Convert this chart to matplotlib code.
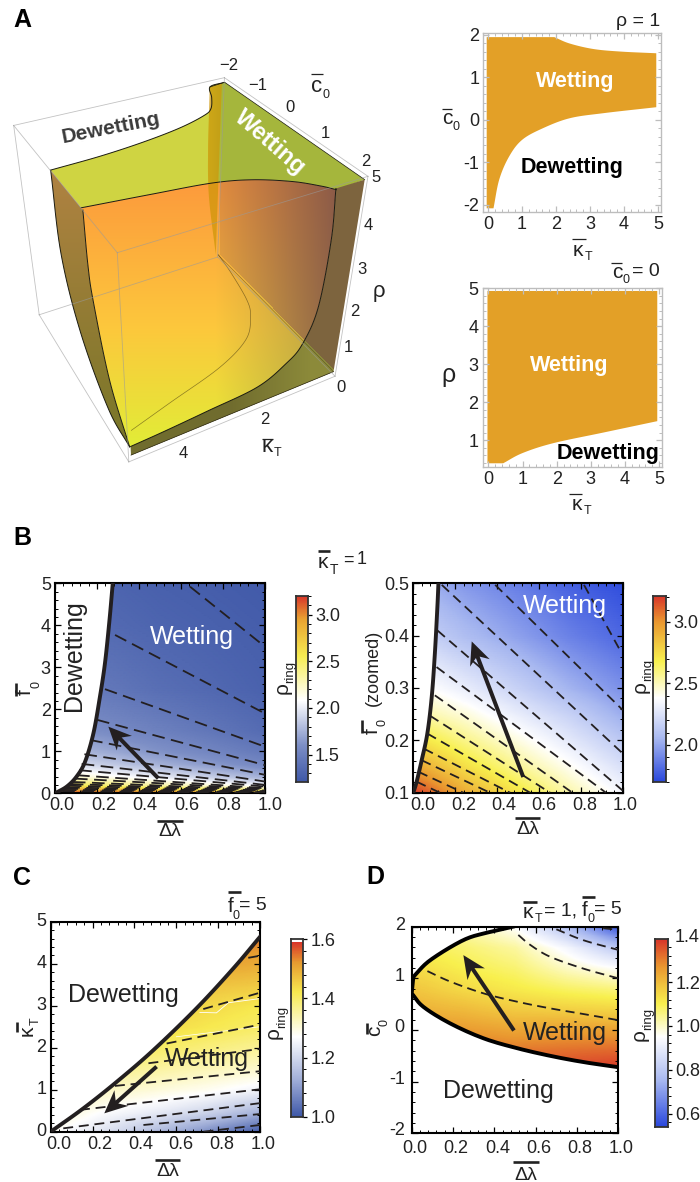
import numpy as np
import matplotlib
matplotlib.use("Agg")
import matplotlib.pyplot as plt
from matplotlib.colors import LinearSegmentedColormap, Normalize
from matplotlib.patches import Polygon
from matplotlib.ticker import AutoMinorLocator
from matplotlib.transforms import ScaledTranslation, IdentityTransform

plt.rcParams['font.family'] = ['Liberation Sans', 'DejaVu Sans']
W, H = 700, 1182
INK = '#231F20'
AMBER = '#E3A027'

# ---------------- DATA ----------------
# Panel A, wetting region read in (kappa_T, c0, rho)
top_low_k = [0.05, 0.45, 0.7, 1.0, 1.3, 2.0, 2.9, 3.9, 4.95]
top_low_c = [-1.95, -1.9, -1.5, -1.12, -0.95, -0.75, -0.6, -0.5, -0.46]
top_up_k = [4.95, 3.7, 2.55, 1.83, 1.22, 0.86, 0.7]
top_up_c = [0.72, 0.86, 1.0, 1.2, 1.52, 1.82, 2.0]
wall_k = [0.68, 0.62, 0.71, 1.0, 1.37, 2.04, 3.2, 4.2, 4.93]
wall_r = [4.92, 3.8, 2.2, 1.33, 0.95, 0.6, 0.49, 0.41, 0.37]
left_out_c = [-0.45, -0.38, 0.2, 1.19, 1.97]
left_out_r = [4.92, 3.05, 1.55, 0.5, 0.37]
left_in_c = [0.78, 0.8, 0.9, 1.33, 1.97]
left_in_r = [4.92, 3.75, 3.0, 1.45, 0.37]
floor_k = [0.02, 0.14, 0.37, 0.62, 1.15, 2.15, 3.6, 4.65]
floor_c = [-1.95, -1.28, -0.4, 0.04, 0.55, 0.95, 1.28, 1.52]
strip_k = [0.42, 0.42, 0.42, 0.36, 0.1]
strip_r = [4.9, 4.4, 3.3, 2.0, 0.15]

# Panel A slices
s1_low_k = [0.16, 0.33, 0.62, 1.0, 1.6, 2.4, 3.4, 4.95]
s1_low_c = [-2.08, -1.4, -0.86, -0.47, -0.2, 0.04, 0.16, 0.3]
s1_up_k = [1.95, 2.4, 3.1, 3.9, 4.95]
s1_up_c = [1.95, 1.8, 1.67, 1.61, 1.57]
s2_k = [-0.03, 0.43, 1.0, 1.9, 3.37, 4.95]
s2_r = [0.39, 0.39, 0.66, 0.92, 1.2, 1.5]

# Panel B left
b1_bound_x = [0, 0.056, 0.103, 0.143, 0.183, 0.214, 0.238, 0.259, 0.275]
b1_bound_y = [0, 0.16, 0.4, 0.75, 1.43, 2.3, 3.1, 4.1, 5]
b1_x = [0, 0.5, 1]
b1_y = [0, 0.02, 0.05, 0.1, 0.2, 0.4, 0.7, 1.0, 1.5, 2.5, 4, 5]
b1_z = [[3.2, 3.15, 3.05], [3.2, 3.15, 3.05], [3.1, 3.0, 2.75], [2.95, 2.7, 2.4],
        [2.6, 2.32, 2.05], [2.25, 2.0, 1.75], [1.98, 1.75, 1.55], [1.82, 1.62, 1.45],
        [1.65, 1.5, 1.35], [1.5, 1.37, 1.28], [1.38, 1.3, 1.25], [1.33, 1.27, 1.23]]
b1_start_x = [0.643, 0.286, 0.238, 0.2, 0.167, 0.14, 0.127, 0.115, 0.105, 0.095, 0.085, 0.075, 0.066, 0.058, 0.05, 0.042, 0.034]
b1_start_y = [4.92, 3.77, 2.48, 1.75, 1.27, 0.93, 0.7, 0.55, 0.43, 0.35, 0.27, 0.22, 0.18, 0.14, 0.11, 0.08, 0.05]
b1_end_y = [3.49, 1.9, 1.11, 0.67, 0.44, 0.28, 0.2, 0.16, 0.12, 0.1, 0.08, 0.065, 0.05, 0.04, 0.03, 0.025, 0.015]
b1_arrow = [0.492, 0.357, 0.254, 1.587]

# Panel B right
b2_bound_x = [0, 0.016, 0.04, 0.067, 0.088, 0.103, 0.115, 0.12]
b2_bound_y = [0.1, 0.121, 0.162, 0.213, 0.283, 0.366, 0.455, 0.5]
b2_x = [0, 0.25, 0.5, 0.75, 1]
b2_y = [0.1, 0.15, 0.2, 0.25, 0.3, 0.4, 0.5]
b2_z = [[3.2, 2.92, 2.72, 2.52, 2.35], [2.95, 2.74, 2.56, 2.4, 2.24], [2.75, 2.58, 2.43, 2.28, 2.13],
        [2.55, 2.44, 2.3, 2.17, 2.02], [2.42, 2.3, 2.17, 2.04, 1.93], [2.2, 2.08, 1.98, 1.88, 1.8],
        [2.05, 1.95, 1.87, 1.78, 1.72]]
b2_start_x = [0.815, 0.391, 0.136, 0.115, 0.111, 0.103, 0.08, 0.067, 0.051, 0.04, 0.024, 0.016]
b2_start_y = [0.497, 0.497, 0.497, 0.41, 0.34, 0.286, 0.247, 0.213, 0.184, 0.162, 0.14, 0.121]
b2_end_x = [0.982, 1, 1, 1, 0.92, 0.76, 0.653, 0.558, 0.462, 0.366, 0.239, 0.127]
b2_end_y = [0.376, 0.258, 0.175, 0.104, 0.1, 0.1, 0.1, 0.1, 0.1, 0.1, 0.1, 0.1]
b2_arrow = [0.525, 0.13, 0.279, 0.389]

# Panel C
c_bound_x = [0, 0.156, 0.316, 0.49, 0.697, 0.873, 1]
c_bound_y = [0, 0.556, 1.19, 1.94, 2.94, 3.89, 4.64]
c_x = [0, 0.25, 0.5, 0.75, 1]
c_y = [0, 0.5, 1, 1.5, 2, 2.5, 3, 3.5, 4, 4.6, 5]
c_z = [[1.28, 1.22, 1.15, 1.08, 1.01], [1.32, 1.27, 1.24, 1.2, 1.14], [1.36, 1.32, 1.3, 1.28, 1.25],
       [1.4, 1.37, 1.35, 1.33, 1.31], [1.44, 1.42, 1.4, 1.38, 1.36], [1.48, 1.46, 1.44, 1.42, 1.4],
       [1.5, 1.48, 1.46, 1.44, 1.42], [1.53, 1.51, 1.49, 1.47, 1.46], [1.55, 1.53, 1.52, 1.51, 1.5],
       [1.57, 1.56, 1.55, 1.54, 1.54], [1.58, 1.57, 1.56, 1.55, 1.55]]
c_start_x = [0.944, 0.729, 0.554, 0.467, 0.307, 0.14, 0.06, 0.443, 0.73]
c_start_y = [4.14, 2.92, 2.1, 1.63, 1.09, 0.52, 0.08, 0.16, 0.0]
c_end_y = [4.19, 3.31, 2.55, 1.97, 1.44, 1.01, 0.68, 0.42, 0.16]
c_white_x = [0.713, 0.792, 0.849, 1]
c_white_y = [2.84, 2.83, 3.07, 3.17]
c_white2_x = [0.6, 1]
c_white2_y = [2.26, 2.5]
c_arrow = [0.506, 1.55, 0.256, 0.437]

# Panel D
d_up_x = [0.008, 0.089, 0.25, 0.37, 0.49]
d_up_y = [1.03, 1.35, 1.74, 1.89, 2]
d_low_x = [0, 0.056, 0.185, 0.347, 0.508, 0.67, 0.83, 1]
d_low_y = [0.71, 0.45, 0.13, -0.16, -0.35, -0.5, -0.62, -0.72]
d_x = [0, 0.25, 0.5, 0.75, 1]
d_y = [-0.8, -0.4, 0, 0.4, 0.8, 1.2, 1.6, 2]
d_z = [[1.35, 1.35, 1.35, 1.38, 1.4], [1.33, 1.33, 1.31, 1.32, 1.33], [1.27, 1.26, 1.24, 1.25, 1.25],
       [1.22, 1.2, 1.17, 1.16, 1.15], [1.18, 1.14, 1.11, 1.08, 1.06], [1.14, 1.1, 1.07, 1.0, 0.95],
       [1.1, 1.07, 1.03, 0.93, 0.8], [1.08, 1.02, 0.95, 0.78, 0.57]]
d_c1_x = [0.076, 0.185, 0.347, 0.508, 0.669, 0.83, 1]
d_c1_y = [1.14, 0.94, 0.71, 0.55, 0.42, 0.31, 0.19]
d_c2_x = [0.516, 0.573, 0.669, 0.83, 1]
d_c2_y = [1.84, 1.65, 1.42, 1.19, 1.0]
d_c3_x = [0.7, 0.83, 1]
d_c3_y = [1.95, 1.74, 1.55]
d_c4_x = [0.927, 1]
d_c4_y = [1.97, 1.94]
d_arrow = [0.495, -0.01, 0.25, 1.45]

# ---------------- HELPERS ----------------
fig = plt.figure(figsize=(W / 100, H / 100), dpi=100)


def box(x0, y0, x1, y1, **kw):
    return fig.add_axes([x0 / W, 1 - y1 / H, (x1 - x0) / W, (y1 - y0) / H], **kw)


def smooth(x, y, n=12):
    p = np.column_stack([x, y]).astype(float)
    q = np.vstack([2 * p[0] - p[1], p, 2 * p[-1] - p[-2]])
    out = []
    for i in range(1, len(q) - 2):
        t = np.linspace(0, 1, n, endpoint=False)[:, None]
        a, b, c, d = q[i - 1], q[i], q[i + 1], q[i + 2]
        out.append(0.5 * (2 * b + (c - a) * t + (2 * a - 5 * b + 4 * c - d) * t ** 2 + (3 * b - a - 3 * c + d) * t ** 3))
    out.append(p[-1:])
    o = np.vstack(out)
    return o[:, 0], o[:, 1]


def style(ax, xt, xl, yt, yl, dx=(0, 0), dy=(0, 0), color='black', lw=1.5, pad=3, size=13):
    ax.set_xticks(xt, xl)
    ax.set_yticks(yt, yl)
    ax.xaxis.set_minor_locator(AutoMinorLocator(5))
    ax.yaxis.set_minor_locator(AutoMinorLocator(5))
    ax.tick_params(which='major', direction='in', length=4, width=0.9, top=True, right=True,
                   labelsize=size, labelcolor='#222222', color=color, pad=pad)
    ax.tick_params(which='minor', direction='in', length=2, width=0.7, top=True, right=True, color=color)
    for s in ax.spines.values():
        s.set_linewidth(lw)
        s.set_color(color)
    n = len(xl)
    for i, lab in enumerate(ax.get_xticklabels()):
        d = dx[0] + (dx[1] - dx[0]) * i / max(n - 1, 1)
        lab.set_transform(lab.get_transform() + ScaledTranslation(d / 100, 0, fig.dpi_scale_trans))
    n = len(yl)
    for i, lab in enumerate(ax.get_yticklabels()):
        d = dy[0] + (dy[1] - dy[0]) * i / max(n - 1, 1)
        lab.set_transform(lab.get_transform() + ScaledTranslation(0, d / 100, fig.dpi_scale_trans))


def make_cmap(stops, vmin, vmax):
    return LinearSegmentedColormap.from_list('c', [((v - vmin) / (vmax - vmin), c) for v, c in stops], N=512), Normalize(vmin, vmax)


def field(ax, xs, ys, zs, cmap, norm, clip_xy):
    xf = np.linspace(min(xs), max(xs), 201)
    yf = np.unique(np.concatenate([np.linspace(ys[i], ys[i + 1], 25) for i in range(len(ys) - 1)]))
    zs = np.asarray(zs, float)
    a = np.array([np.interp(xf, xs, row) for row in zs])
    f = np.array([np.interp(yf, ys, col) for col in a.T]).T
    m = ax.pcolormesh(xf, yf, f, shading='gouraud', cmap=cmap, norm=norm, zorder=1)
    m.set_clip_path(Polygon(clip_xy, closed=True, transform=ax.transData))


def cbar(b, vmin, vmax, cmap, norm, ticks, labels):
    ax = box(*b)
    v = np.linspace(vmin, vmax, 400)
    ax.pcolormesh([0, 1], v, v[:-1, None], cmap=cmap, norm=norm, shading='flat')
    ax.set_xticks([])
    ax.set_ylim(vmin, vmax)
    ax.yaxis.tick_right()
    ax.set_yticks(ticks, labels)
    ax.yaxis.set_minor_locator(AutoMinorLocator(5))
    ax.tick_params(which='major', direction='out', length=3, width=0.9, labelsize=13, labelcolor='#222222', pad=2)
    ax.tick_params(which='minor', direction='out', length=1.8, width=0.7)
    for s in ax.spines.values():
        s.set_linewidth(1.3)
        s.set_color('#333333')
    return ax


def arrow(ax, a, width=4.0, head=23, half=10.5, notch=6):
    p, q = ax.transData.transform([(a[0], a[1]), (a[2], a[3])])
    u = (q - p) / np.hypot(*(q - p))
    n = np.array([-u[1], u[0]])
    base = q - u * (head - notch)
    wing = q - u * head
    pts = [p + n * width / 2, base + n * width / 2, wing + n * half, q, wing - n * half,
           base - n * width / 2, p - n * width / 2]
    ax.add_patch(Polygon(pts, closed=True, fc=INK, ec='none', transform=IdentityTransform(), zorder=6, clip_on=False))


def dashed(ax, xs, ys, dash=(5.5, 3.2), lw=1.3):
    ax.plot(xs, ys, color=INK, lw=lw, dashes=dash, zorder=3, dash_capstyle='butt', clip_on=True)


# ---------------- PANEL A 3D ----------------
pa = box(0, 0, W, H)
pa.axis('off')
cal3 = np.array([[0, 2, 0], [0, 2, 5], [0, -2, 5], [5, -2, 5], [5, 2, 5], [5, 2, 0], [5, -2, 0], [0, -2, 0]], float)
cal2 = np.array([[335, 377], [367, 175], [226, 78], [13, 126], [117, 253], [130, 462], [39, 314], [217, 257]], float)
rows, rhs = [], []
for (a, b, c), (u, v) in zip(cal3, cal2):
    rows.append([a, b, c, 1, 0, 0, 0, 0, -u * a, -u * b, -u * c])
    rows.append([0, 0, 0, 0, a, b, c, 1, -v * a, -v * b, -v * c])
    rhs += [u, v]
pm = np.append(np.linalg.lstsq(np.array(rows), np.array(rhs), rcond=None)[0], 1).reshape(3, 4)


def proj(k, c, r):
    k, c, r = np.broadcast_arrays(np.asarray(k, float), np.asarray(c, float), np.asarray(r, float))
    q = pm @ np.vstack([k.ravel(), c.ravel(), r.ravel(), np.ones(k.size)])
    return q[0] / q[2], q[1] / q[2]


def sproj(k, c, r):
    return smooth(*proj(k, c, r))


def grad(xy, func, z):
    x0, x1 = int(xy[:, 0].min()) - 2, int(xy[:, 0].max()) + 3
    y0, y1 = int(xy[:, 1].min()) - 2, int(xy[:, 1].max()) + 3
    X, Y = np.meshgrid(np.arange(x0, x1), np.arange(y0, y1))
    im = pa.imshow(np.clip(func(X, Y), 0, 255).astype(np.uint8), extent=(x0 - .5, x1 - .5, y1 - .5, y0 - .5), aspect='auto', zorder=z)
    im.set_clip_path(Polygon(xy, closed=True, transform=pa.transData))


def mix(a, b, t):
    t = np.clip(t, 0, 1)[..., None]
    return np.array(a, float) * (1 - t) + np.array(b, float) * t


RTOP = 4.92
hx, hy = proj([0], [-2], [0.12])
ex, ey = proj([0], [2], [0.12])


def diag_y(X):
    return hy[0] + (X - hx[0]) * (ey[0] - hy[0]) / (ex[0] - hx[0])


tl = np.column_stack(sproj(top_low_k, top_low_c, RTOP))
tu = np.column_stack(sproj(top_up_k, top_up_c, RTOP))
corner0 = np.column_stack(proj([0.03], [1.97], [RTOP]))
corner1 = np.column_stack(proj([0.03], [-1.95], [RTOP]))
top_xy = np.vstack([corner1, tl, tu, corner0])
grad(top_xy, lambda X, Y: mix((207, 212, 66), (165, 182, 60), (X - 208) / 14), 2)

# floor
fl = np.column_stack(sproj(floor_k, floor_c, 0.12))
fa = np.column_stack(proj([0.03, 4.93], [1.97, 1.97], [0.12, 0.12]))
floor_xy = np.vstack([fl, fa[::-1]])
pa.add_patch(Polygon(floor_xy, closed=True, fc=(150 / 255, 150 / 255, 62 / 255), ec='none', zorder=2))

# kT=5 wall
lo = np.column_stack(sproj(4.95, left_out_c, left_out_r))
li = np.column_stack(sproj(4.95, left_in_c, left_in_r))
grad(np.vstack([lo, li[::-1]]), lambda X, Y: mix((175, 130, 65), (120, 118, 40), (Y - 175) / 270), 3)

# c0=2 wall
wl = np.column_stack(sproj(wall_k, 1.97, wall_r))
wb = np.column_stack(proj([4.93, 0.03, 0.03], [1.97, 1.97, 1.97], [0.12, 0.12, RTOP]))


def wall_col(X, Y):
    upper = np.broadcast_to(np.array((125., 100., 62.)), X.shape + (3,))
    lower = mix((112, 108, 46), (140, 138, 58), (X - 230) / 80)
    return np.where((Y > diag_y(X))[..., None], lower, upper)


grad(np.vstack([wl, wb]), wall_col, 3)

# translucent front surface
front = np.vstack([tu, wl, li[::-1]])


def front_col(X, Y):
    c1 = mix((252, 155, 60), (252, 200, 60), (Y - 185) / 145)
    c2 = mix((252, 200, 60), (226, 236, 55), (Y - 330) / 115)
    base = np.where((Y < 330)[..., None], c1, c2)
    wall = (X > hx[0] + 2) & (Y < diag_y(X))
    t = 0.2 + 0.62 * (X - hx[0]) / 115
    out = np.where(wall[..., None], mix(base, (118, 78, 74), t), base)
    fl_t = np.clip((X - 215) / 110, 0, 1) * 0.72
    out = np.where(((~wall) & (X > 215))[..., None], mix(base, (165, 150, 70), fl_t), out)
    return out


grad(front, front_col, 4)

# strip seen near the kT=0 corner
sx, sy = sproj(strip_k, -1.95, strip_r)
sx2, sy2 = proj([0.1, 0.1], [-1.95, -1.95], [0.15, RTOP])
pa.add_patch(Polygon(np.vstack([np.column_stack([sx, sy]), np.column_stack([sx2, sy2])]), closed=True,
                     fc=(205 / 255, 150 / 255, 8 / 255), alpha=0.72, ec='none', zorder=5))

for arr in (tl, tu, wl, lo, li):
    pa.plot(arr[:, 0], arr[:, 1], color='#1a1a10', lw=0.7, zorder=6)
pa.plot(fl[:, 0], fl[:, 1], color='#4a3a10', lw=0.5, alpha=0.6, zorder=6)
diag_xy = proj([0.03, 0.03], [-1.95, 1.97], [0.12, 0.12])
pa.plot(*diag_xy, color='#2a2410', lw=0.4, alpha=0.5, zorder=6)
top_end = proj([0.03, 0.03, 0.45], [1.97, -1.95, -1.9], [RTOP, RTOP, RTOP])
pa.plot(*top_end, color='#1a1a10', lw=0.5, zorder=6)
base_xy = proj([0.03, 4.93], [1.97, 1.97], [0.12, 0.12])
pa.plot(*base_xy, color='#2a2410', lw=0.5, zorder=6)

# bounding box
ks, cs, rs = (0, 5), (-2, 2), (0, 5)
edges = []
for c in cs:
    for r in rs:
        edges.append(((0, c, r), (5, c, r)))
for k in ks:
    for r in rs:
        edges.append(((k, -2, r), (k, 2, r)))
for k in ks:
    for c in cs:
        edges.append(((k, c, 0), (k, c, 5)))
for p, q in edges:
    ex_, ey_ = proj([p[0], q[0]], [p[1], q[1]], [p[2], q[2]])
    pa.plot(ex_, ey_, color='#9a9a9a', lw=0.6, alpha=0.6, zorder=7)
pa.set_xlim(0, W)
pa.set_ylim(H, 0)

# overlay for labels
ov = box(0, 0, W, H)
ov.set_xlim(0, W)
ov.set_ylim(H, 0)
ov.axis('off')
ov.set_zorder(20)


def T(x, y, s, size=13, color='#222222', ha='center', va='center', **kw):
    ov.text(x, y, s, fontsize=size, color=color, ha=ha, va=va, **kw)


def bar(x0, x1, y, lw=1.9, color='#222222'):
    ov.plot([x0, x1], [y, y], color=color, lw=lw, solid_capstyle='butt')


def vbar(x, y0, y1, lw=1.9, color='#222222'):
    ov.plot([x, x], [y0, y1], color=color, lw=lw, solid_capstyle='butt')


def dl(ax_x, ax_y, bar_x0, bar_x1, bar_y):
    T(ax_x, ax_y, '\u0394\u03bb', size=14)
    bar(bar_x0, bar_x1, bar_y)


def ring(x0, y0, x1, y1):
    T(x0, y0, '\u03c1', size=15, rotation=90)
    T(x1, y1, 'ring', size=9.5, rotation=90)


# panel letters
for x, y, s in [(22, 20, 'A'), (22, 538, 'B'), (22, 878, 'C'), (375, 877, 'D')]:
    T(x, y, s, size=18, color='black', fontweight='bold')

# 3D labels
for x, y, s in [(229, 65, '\u22122'), (258, 86, '\u22121'), (290, 107, '0'), (325, 133, '1'), (366, 161, '2')]:
    T(x, y, s, size=12)
for x, y, s in [(265, 420, '2'), (183, 454, '4')]:
    T(x, y, s, size=12)
for x, y, s in [(341, 388, '0'), (348, 348, '1'), (355, 311, '2'), (362, 269, '3'), (368, 226, '4'), (376, 177, '5')]:
    T(x, y, s, size=12)
T(317, 87, 'c', size=16)
T(326, 95, '0', size=9)
bar(311, 323, 74, lw=0.9)
T(267, 446, '\u03ba', size=16)
T(278, 453, 'T', size=9)
bar(262, 273, 439, lw=0.9)
T(379, 291, '\u03c1', size=16)
T(111, 128, 'Dewetting', size=15, color='#3a3a3a', fontweight='bold', rotation=11)
T(270, 143, 'Wetting', size=17, color='white', fontweight='bold', rotation=-41)

# ---------------- PANEL A SLICES ----------------
a1 = box(483.3, 33.3, 660.7, 211.7)
a1.set_xlim(-0.14, 5.08)
a1.set_ylim(-2.16, 2.04)
lk, lc = smooth(s1_low_k, s1_low_c)
uk, uc = smooth(s1_up_k, s1_up_c)
a1.fill(np.r_[-0.04, lk, uk[::-1], -0.04], np.r_[-2.08, lc, uc[::-1], 1.95], color=AMBER, lw=0)
style(a1, range(6), list('012345'), [-2, -1, 0, 1, 2], ['-2', '-1', '0', '1', '2'], color='#BDBDBD', lw=1.0)

a2 = box(482.7, 288.3, 661.7, 466.7)
a2.set_xlim(-0.17, 5.08)
a2.set_ylim(0.3, 5.0)
k2, r2 = smooth(s2_k[1:], s2_r[1:])
a2.fill(np.r_[-0.03, -0.03, k2, 4.95], np.r_[4.93, 0.39, r2, 4.93], color=AMBER, lw=0)
style(a2, range(6), list('012345'), [1, 2, 3, 4, 5], list('12345'), color='#BDBDBD', lw=1.0)

T(660, 21, '\u03c1 = 1', ha='right', size=14)
T(447, 118, 'c', size=15)
T(456, 127, '0', size=9)
bar(442, 452, 109, lw=0.9)
T(578, 250, '\u03ba', size=15)
T(589, 257, 'T', size=9)
bar(572, 586, 239, lw=0.9)
T(575, 81, 'Wetting', size=15.5, color='white', fontweight='bold')
T(572, 167, 'Dewetting', size=15.5, color='black', fontweight='bold')
T(448, 375, '\u03c1', size=18)
T(617, 272, 'c', size=15)
T(626, 280, '0', size=9)
bar(611, 622, 263, lw=0.9)
T(660, 272, '= 0', ha='right', size=14)
T(577, 505, '\u03ba', size=15)
T(588, 511, 'T', size=9)
bar(569, 582, 494, lw=0.9)
T(569, 366, 'Wetting', size=15.5, color='white', fontweight='bold')
T(608, 453, 'Dewetting', size=15.5, color='black', fontweight='bold')

# ---------------- PANEL B ----------------
tks = [0, 0.2, 0.4, 0.6, 0.8, 1.0]
tkl = ['0.0', '0.2', '0.4', '0.6', '0.8', '1.0']
cm1, n1 = make_cmap([(1.21, '#3F58A8'), (1.6, '#7D8FC6'), (2.08, '#FFFFFF'), (2.55, '#F6EC52'), (2.95, '#E9A231'), (3.2, '#D8352A')], 1.21, 3.2)
b1 = box(55, 583.3, 265, 793.3)
bx, by = smooth(b1_bound_x, b1_bound_y)
field(b1, b1_x, b1_y, b1_z, cm1, n1, np.vstack([np.column_stack([bx, by]), [[1, 5], [1, 0]]]))
for x0, y0, y1 in zip(b1_start_x, b1_start_y, b1_end_y):
    dashed(b1, [x0, 1], [y0, y1], dash=(7, 3.6))
b1.plot(bx, by, color=INK, lw=2.8, zorder=5)
b1.set_xlim(0, 1)
b1.set_ylim(0, 5)
arrow(b1, b1_arrow)
style(b1, tks, tkl, range(6), list('012345'), dx=(7, 5))
cbar((295.7, 596, 308, 781.7), 1.21, 3.2, cm1, n1, [1.5, 2, 2.5, 3], ['1.5', '2.0', '2.5', '3.0'])

cm2, n2 = make_cmap([(1.7, '#2A48DC'), (2.05, '#A8B8F0'), (2.38, '#FFFFFF'), (2.68, '#F8F04E'), (3.0, '#E9962F'), (3.21, '#D8352A')], 1.7, 3.21)
b2 = box(413.3, 583.3, 622.7, 792.7)
bx, by = smooth(b2_bound_x, b2_bound_y)
field(b2, b2_x, b2_y, b2_z, cm2, n2, np.vstack([np.column_stack([bx, by]), [[1, 0.5], [1, 0.1]]]))
for x0, y0, x1, y1 in zip(b2_start_x, b2_start_y, b2_end_x, b2_end_y):
    dashed(b2, [x0, x1], [y0, y1])
b2.plot(bx, by, color=INK, lw=2.8, zorder=5)
b2.set_xlim(0, 1)
b2.set_ylim(0.1, 0.5)
arrow(b2, b2_arrow)
style(b2, tks, tkl, [0.1, 0.2, 0.3, 0.4, 0.5], ['0.1', '0.2', '0.3', '0.4', '0.5'], dx=(10, 2))
cbar((653.3, 596, 666, 781.7), 1.7, 3.21, cm2, n2, [2, 2.5, 3], ['2.0', '2.5', '3.0'])

T(323, 562, '\u03ba', size=15)
T(334, 570, 'T', size=10)
bar(318, 330, 551)
T(343, 560, '=', ha='left')
T(362, 560, '1')
T(25, 692, 'f', size=15, rotation=90)
T(36, 684, '0', size=9, rotation=90)
vbar(16, 683, 696)
dl(170, 832, 157, 183, 821)
T(192, 637, 'Wetting', size=18, color='white')
T(74, 656, 'Dewetting', size=18, color='#222222', rotation=90)
ring(282, 688, 290, 672)
T(372, 731, 'f', size=15, rotation=90)
T(383, 723, '0', size=9, rotation=90)
vbar(362, 720, 733)
T(373, 668, '(zoomed)', size=13, rotation=90)
dl(528, 830, 515, 540, 818)
T(565, 606, 'Wetting', size=18, color='white')
ring(640, 687, 648, 670)

# ---------------- PANEL C ----------------
cm3, n3 = make_cmap([(1.0, '#3E58A8'), (1.13, '#A5B2DA'), (1.27, '#FFFFFF'), (1.42, '#F7E950'), (1.52, '#E79C30'), (1.59, '#D8352A')], 1.0, 1.59)
c = box(50.7, 921.7, 260, 1131.7)
bx, by = smooth(c_bound_x, c_bound_y)
field(c, c_x, c_y, c_z, cm3, n3, np.vstack([np.column_stack([bx, by]), [[1, 0], [0, 0]]]))
c.plot(c_white_x, c_white_y, color='white', lw=0.6, zorder=2)
c.plot(c_white2_x, c_white2_y, color='white', lw=0.5, zorder=2)
for x0, y0, y1 in zip(c_start_x, c_start_y, c_end_y):
    dashed(c, [x0, 1], [y0, y1])
c.plot(bx, by, color=INK, lw=2.8, zorder=5)
c.set_xlim(0, 1)
c.set_ylim(0, 5)
arrow(c, c_arrow)
style(c, tks, tkl, range(6), list('012345'), dx=(8, 3), dy=(2, 2))
cbar((291, 939.3, 303.3, 1116.7), 1.0, 1.59, cm3, n3, [1.0, 1.2, 1.4, 1.6], ['1.0', '1.2', '1.4', '1.6'])

T(231, 907, 'f', size=15)
T(236, 916, '0', size=9)
bar(228, 241, 892)
T(253, 906, '= 5', size=14)
T(27, 1031, '\u03ba', size=15, rotation=90)
T(36, 1021, 'T', size=9, rotation=90)
vbar(17, 1022, 1032)
dl(168, 1172, 155, 180, 1160)
T(123, 995, 'Dewetting', size=18)
T(207, 1059, 'Wetting', size=18)
ring(273, 1033, 282, 1017)

# ---------------- PANEL D ----------------
cm4, n4 = make_cmap([(0.54, '#2A48DC'), (0.75, '#A8B8F0'), (0.95, '#FFFFFF'), (1.1, '#F8F04E'), (1.27, '#E9962F'), (1.395, '#D8352A')], 0.54, 1.395)
d = box(411.7, 926.7, 618.3, 1133.3)
ux, uy = smooth(d_up_x, d_up_y)
lx, ly = smooth(d_low_x, d_low_y)
field(d, d_x, d_y, d_z, cm4, n4, np.vstack([np.column_stack([lx, ly]), [[1, 2]], np.column_stack([ux, uy])[::-1]]))
for xs, ys in [(d_c1_x, d_c1_y), (d_c2_x, d_c2_y), (d_c3_x, d_c3_y), (d_c4_x, d_c4_y)]:
    dashed(d, *(smooth(xs, ys) if len(xs) > 2 else (xs, ys)), dash=(5, 3))
d.plot(np.r_[ux[::-1], lx], np.r_[uy[::-1], ly], color='black', lw=2.8, zorder=5)
d.set_xlim(0, 1)
d.set_ylim(-2, 2)
arrow(d, d_arrow)
style(d, tks, tkl, [-2, -1, 0, 1, 2], ['-2', '-1', '0', '1', '2'], dx=(3, 3), dy=(5, 3), pad=5)
cbar((655.3, 939.3, 668.3, 1126.7), 0.54, 1.395, cm4, n4, [0.6, 0.8, 1.0, 1.2], ['0.6', '0.8', '1.0', '1.2'])
T(675, 937, '1.4', ha='left')

T(528, 912, '\u03ba', size=15)
T(539, 919, 'T', size=9)
bar(523, 537, 902)
T(561, 911, '= 1,', size=14)
T(585, 910, 'f', size=15)
T(591, 919, '0', size=9)
bar(582, 595, 897)
T(608, 910, '= 5', size=14)
T(375, 1031, 'c', size=15, rotation=90)
T(385, 1022, '0', size=9, rotation=90)
vbar(367, 1023, 1034)
dl(526, 1175, 513, 539, 1162)
T(565, 1033, 'Wetting', size=18)
T(498, 1091, 'Dewetting', size=18)
ring(639, 1035, 648, 1019)

fig.savefig('out.png', dpi=100)
